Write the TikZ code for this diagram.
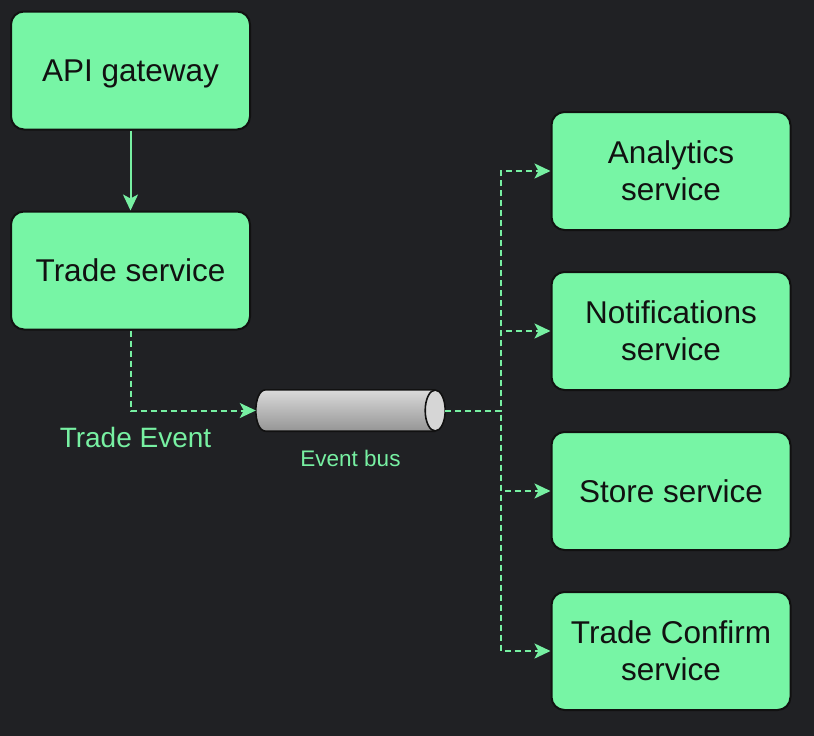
\documentclass[tikz,border=0pt]{standalone}
\usepackage{fontspec}
\setmainfont{Liberation Sans}
\usetikzlibrary{arrows.meta,calc}
\definecolor{bg}{HTML}{202124}
\definecolor{mint}{HTML}{77F5A5}
\definecolor{link}{HTML}{77F0A2}
\definecolor{ink}{HTML}{111111}
\definecolor{capgray}{HTML}{D6D6D6}
\definecolor{bodytop}{HTML}{DADADA}
\definecolor{bodybot}{HTML}{959595}
\begin{document}
\begin{tikzpicture}[x=1pt,y=-1pt,
    svc/.style={shape=rectangle,rounded corners=13pt,draw=ink,line width=2pt,fill=mint,
      minimum width=239pt,minimum height=118pt,align=center,text=ink,text depth=0pt,
      font=\fontsize{31.5}{37}\selectfont},
    busbox/.style={shape=rectangle,minimum width=189pt,minimum height=41pt,inner sep=0pt},
    lbl/.style={text=link,inner sep=0pt},
    flow/.style={color=link,line width=2pt,-{Stealth[length=16pt,width=15pt,inset=4pt]}},
    evt/.style={flow,dash pattern=on 6pt off 4pt}]
    \fill[bg] (0,0) rectangle (814,736);
    \useasboundingbox (0,0) rectangle (814,736);

    \node[svc] (API) at (130.5,70.5) {API gateway};
    \node[svc] (Trade) at (130.5,270.5) {Trade service};

    % event bus: a cylinder lying on its side
    \node[busbox] (Bus) at (350.5,410.5) {};
    \draw[draw=ink,line width=1.6pt,top color=bodytop,bottom color=bodybot]
      ($(Bus.north east)+(-10,0)$) -- ($(Bus.north west)+(10,0)$)
      .. controls ($(Bus.north west)+(-3.3,0)$) and ($(Bus.south west)+(-3.3,0)$) ..
      ($(Bus.south west)+(10,0)$) -- ($(Bus.south east)+(-10,0)$);
    \filldraw[draw=ink,line width=1.6pt,fill=capgray]
      ($(Bus.east)+(-10,0)$) ellipse (10 and 20.5);
    \node[lbl,font=\fontsize{28}{32}\selectfont] (TradeEvt) at (135.5,437) {Trade Event};
    \node[lbl,font=\fontsize{22.5}{26}\selectfont] (BusLbl) at (350.5,458) {Event bus};

    \node[svc] (Analytics) at (671,171) {Analytics\\service};
    \node[svc] (Notif) at (671,331) {Notifications\\service};
    \node[svc] (Store) at (671,491) {Store service};
    \node[svc] (Confirm) at (671,651) {Trade Confirm\\service};

    \coordinate (Hub) at (501,410.5);

    \path [flow] (API) edge (Trade);
    \draw [evt] (Trade.south) |- (Bus.west);
    \foreach \s in {Analytics,Notif,Store,Confirm}
      \draw [evt] (Bus.east) -- (Hub) |- (\s.west);
\end{tikzpicture}
\end{document}
